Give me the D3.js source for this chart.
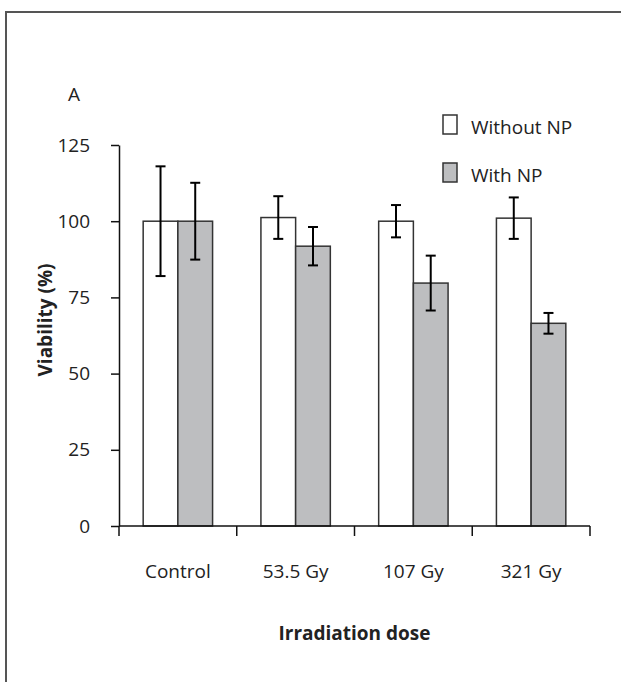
<!DOCTYPE html>
<html>
<head>
<meta charset="utf-8">
<script src="https://cdn.jsdelivr.net/npm/d3@7"></script>
<style>
  body { margin: 0; background: #fff; }
  text { font-family: "Open Sans", "Noto Sans", sans-serif; fill: #222; }
</style>
</head>
<body>
<div id="chart"></div>
<script>
// chart data
const categories = ["Control", "53.5 Gy", "107 Gy", "321 Gy"];
const withoutNP = [100, 101.2, 100, 101];
const withoutNPErr = [18, 7, 5.3, 6.8];
const withNP = [100, 91.8, 79.7, 66.5];
const withNPErr = [12.6, 6.3, 9, 3.4];
const yTicks = [0, 25, 50, 75, 100, 125];
const seriesNames = ["Without NP", "With NP"];
const seriesColors = ["#ffffff", "#bdbec0"];

const width = 621;
const height = 682;
const margin = {left: 119, right: 31, top: 145, bottom: 156};

const svg = d3.select("#chart")
  .append("svg")
  .attr("width", width)
  .attr("height", height);

// outer frame (right and bottom cut off)
svg.append("rect")
  .attr("x", 6).attr("y", 12)
  .attr("width", 700).attr("height", 700)
  .attr("fill", "none")
  .attr("stroke", "#555")
  .attr("stroke-width", 2);

// scales
const yScale = d3.scaleLinear()
  .domain([0, 125])
  .range([height - margin.bottom, margin.top]);

const xScale = d3.scaleBand()
  .domain(categories)
  .range([margin.left, width - margin.right])
  .padding(0);

const barW = 34.7;
const y0 = yScale(0);

// y axis
svg.append("g")
  .attr("transform", `translate(${margin.left},0)`)
  .call(d3.axisLeft(yScale).tickValues(yTicks).tickSize(8).tickSizeOuter(0).tickPadding(21))
  .call(g => g.select(".domain").attr("stroke", "#111").attr("stroke-width", 1.5))
  .call(g => g.selectAll(".tick line").attr("stroke", "#111").attr("stroke-width", 1.5))
  .call(g => g.selectAll(".tick text")
    .attr("font-size", "19px")
    .attr("font-family", "Open Sans, sans-serif")
    .attr("fill", "#222"));

// build the series rows
const rows = categories.map((c, i) => ({
  cat: c,
  vals: [
    {s: 0, v: withoutNP[i], e: withoutNPErr[i]},
    {s: 1, v: withNP[i], e: withNPErr[i]}
  ]
}));

const groups = svg.selectAll(".grp")
  .data(rows)
  .enter()
  .append("g")
  .attr("class", "grp")
  .attr("transform", d => `translate(${xScale(d.cat) + xScale.bandwidth() / 2},0)`);

// bars
groups.selectAll("rect")
  .data(d => d.vals)
  .enter()
  .append("rect")
  .attr("x", d => d.s === 0 ? -barW : 0)
  .attr("y", d => yScale(d.v))
  .attr("width", barW)
  .attr("height", d => y0 - yScale(d.v))
  .attr("fill", d => seriesColors[d.s])
  .attr("stroke", "#333")
  .attr("stroke-width", 1.5);

// error bars
const errs = groups.selectAll(".err")
  .data(d => d.vals)
  .enter()
  .append("g")
  .attr("class", "err")
  .attr("transform", d => `translate(${d.s === 0 ? -barW / 2 : barW / 2},0)`);

errs.append("line")
  .attr("x1", 0).attr("x2", 0)
  .attr("y1", d => yScale(d.v + d.e))
  .attr("y2", d => yScale(d.v - d.e));
errs.append("line")
  .attr("x1", -5).attr("x2", 5)
  .attr("y1", d => yScale(d.v + d.e))
  .attr("y2", d => yScale(d.v + d.e));
errs.append("line")
  .attr("x1", -5).attr("x2", 5)
  .attr("y1", d => yScale(d.v - d.e))
  .attr("y2", d => yScale(d.v - d.e));
errs.selectAll("line")
  .attr("stroke", "#000")
  .attr("stroke-width", 2);

// x axis line + ticks at group boundaries
const bounds = categories.map(c => xScale(c)).concat([xScale.range()[1]]);
svg.append("line")
  .attr("x1", margin.left).attr("x2", width - margin.right)
  .attr("y1", y0).attr("y2", y0)
  .attr("stroke", "#111").attr("stroke-width", 1.5);
svg.selectAll(".xtick")
  .data(bounds)
  .enter()
  .append("line")
  .attr("class", "xtick")
  .attr("x1", d => d).attr("x2", d => d)
  .attr("y1", y0).attr("y2", y0 + 10)
  .attr("stroke", "#111").attr("stroke-width", 1.5);

// category labels
svg.selectAll(".xlab")
  .data(categories)
  .enter()
  .append("text")
  .attr("class", "xlab")
  .attr("x", d => xScale(d) + xScale.bandwidth() / 2)
  .attr("y", 578)
  .attr("text-anchor", "middle")
  .attr("font-size", "19px")
  .text(d => d);

// axis titles
svg.append("text")
  .attr("x", (margin.left + width - margin.right) / 2)
  .attr("y", 640)
  .attr("text-anchor", "middle")
  .attr("font-size", "19px")
  .attr("font-weight", "bold")
  .text("Irradiation dose");

svg.append("text")
  .attr("transform", "translate(52,320) rotate(-90)")
  .attr("text-anchor", "middle")
  .attr("font-size", "19px")
  .attr("font-weight", "bold")
  .text("Viability (%)");

// panel letter
svg.append("text")
  .attr("x", 68).attr("y", 101)
  .attr("font-size", "19px")
  .text("A");

// legend
const legend = svg.selectAll(".leg")
  .data(seriesNames)
  .enter()
  .append("g")
  .attr("class", "leg")
  .attr("transform", (d, i) => `translate(443,${115 + i * 48})`);
legend.append("rect")
  .attr("width", 14).attr("height", 19)
  .attr("fill", (d, i) => seriesColors[i])
  .attr("stroke", "#333").attr("stroke-width", 1.5);
legend.append("text")
  .attr("x", 28).attr("y", 19)
  .attr("font-size", "19px")
  .text(d => d);
</script>
</body>
</html>
